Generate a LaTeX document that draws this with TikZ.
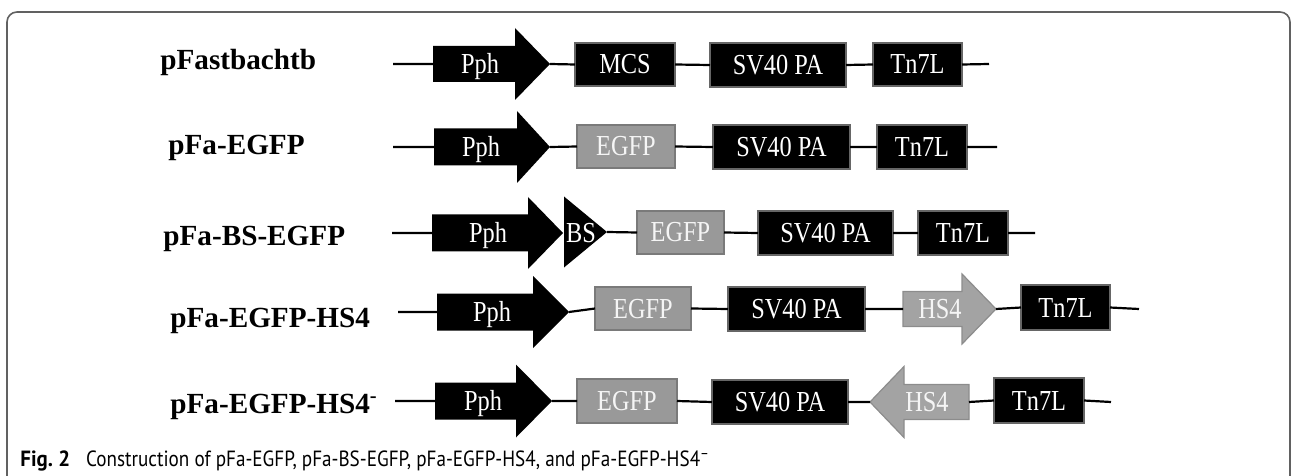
\documentclass[tikz,border=0pt]{standalone}
\usepackage{fontspec}
\setmainfont{Liberation Serif}
\newfontfamily\capfont{PT Sans}
\usepackage{graphicx}
\newcommand\cz[1]{\scalebox{0.84}[1]{#1}}
\newcommand\boxfont{\fontsize{14.5}{16}\selectfont}
% box: name, x1, x2, y1, y2, style, text
\newcommand\gbox[7]{\node[#6, minimum width={(#3-#2)*0.5pt}, minimum height={(#5-#4)*0.5pt}] (#1) at ({(#2+#3)/2},{(#4+#5)/2}) {\cz{#7}};}
% arrow: name, tail x, head base x, tip x, yc, body half, head half, style
\newcommand\garrow[8]{%
  \path[#8] (#2,#5-#6) -- (#3,#5-#6) -- (#3,#5-#7) -- (#4,#5) -- (#3,#5+#7) -- (#3,#5+#6) -- (#2,#5+#6) -- cycle;
  \coordinate (#1-t) at (#2,#5);
  \coordinate (#1-h) at (#4,#5);}
\tikzset{
  conn/.style={line width=1.1pt, black},
  blk/.style={draw=black!60, line width=0.6pt, fill=black, text=white, inner sep=0pt, outer sep=0pt, font=\boxfont, text height=9.5pt, text depth=0pt},
  gry/.style={draw=black!52, line width=0.6pt, fill=black!40, text=black!4, inner sep=0pt, outer sep=0pt, font=\boxfont, text height=9.5pt, text depth=0pt},
  blkA/.style={fill=black},
  gryA/.style={fill=black!36, draw=black!45, line width=0.6pt},
  wtxt/.style={text=white, inner sep=0pt, font=\boxfont, text height=9.5pt, text depth=0pt},
  gtxt/.style={text=black!4, inner sep=0pt, font=\boxfont, text height=9.5pt, text depth=0pt},
  lbl/.style={anchor=base west, inner sep=0pt, font=\fontsize{14.6}{16}\selectfont\bfseries},
  framec/.style={draw=black!62, line width=0.8pt, rounded corners=5pt}
}
\begin{document}
\begin{tikzpicture}[x=0.5pt, y=-0.5pt]
\useasboundingbox (0,0) rectangle (1292,476);
\draw[framec] (7,490) -- (7,12) -- (1290,12) -- (1290,490);

% Row 1
\node[lbl] (l1) at (160,70) {pFastbachtb};
\coordinate (a0) at (393,64);
\garrow{a1}{433}{515}{550}{64}{18}{36}{blkA}
\node[wtxt] (a1n) at (480,64) {\cz{Pph}};
\gbox{a2}{575}{675}{43}{86}{blk}{MCS}
\gbox{a3}{710}{846}{43}{87}{blk}{SV40 PA}
\gbox{a4}{873}{962}{43}{86}{blk}{Tn7L}
\coordinate (a5) at (989,64);
\draw[conn] (a0) -- (a1-t) (a1-h) -- (a2.west) (a2.east) -- (a3.west) (a3.east) -- (a4.west) (a4.east) -- (a5);

% Row 2
\node[lbl] (l2) at (168,155) {pFa-EGFP};
\coordinate (b0) at (393,147);
\garrow{b1}{434}{517}{550}{147}{18.5}{36}{blkA}
\node[wtxt] (b1n) at (481,147) {\cz{Pph}};
\gbox{b2}{577}{675}{125}{168}{gry}{EGFP}
\gbox{b3}{713}{850}{125}{169}{blk}{SV40 PA}
\gbox{b4}{877}{967}{125}{169}{blk}{Tn7L}
\coordinate (b5) at (997,147);
\draw[conn] (b0) -- (b1-t) (b1-h) -- (b2.west) (b2.east) -- (b3.west) (b3.east) -- (b4.west) (b4.east) -- (b5);

% Row 3
\node[lbl] (l3) at (163,245) {pFa-BS-EGFP};
\coordinate (c0) at (392,233);
\garrow{c1}{432}{528}{563}{233}{18.5}{36}{blkA}
\node[wtxt] (c1n) at (488,233) {\cz{Pph}};
\garrow{c2}{564}{564}{607}{232}{0}{35.5}{blkA}
\node[wtxt] (c2n) at (581,233) {\cz{BS}};
\gbox{c3}{637}{724}{211}{254}{gry}{EGFP}
\gbox{c4}{758}{893}{211}{255}{blk}{SV40 PA}
\gbox{c5}{918}{1008}{211}{255}{blk}{Tn7L}
\coordinate (c6) at (1035,233);
\draw[conn] (c0) -- (c1-t) (c2-h) -- (c3.west) (c3.east) -- (c4.west) (c4.east) -- (c5.west) (c5.east) -- (c6);

% Row 4
\node[lbl] (l4) at (170,328) {pFa-EGFP-HS4};
\coordinate (d0) at (398,312);
\garrow{d1}{437}{533}{569}{312}{18.5}{36}{blkA}
\node[wtxt] (d1n) at (492,312) {\cz{Pph}};
\gbox{d2}{595}{691}{287}{330}{gry}{EGFP}
\gbox{d3}{728}{865}{287}{331}{blk}{SV40 PA}
\garrow{d4}{903}{962}{996}{309}{17.5}{35}{gryA}
\node[gtxt] (d4n) at (940,309) {\cz{HS4}};
\gbox{d5}{1021}{1110}{285}{330}{blk}{Tn7L}
\coordinate (d6) at (1139,309);
\draw[conn] (d0) -- (d1-t) (d1-h) -- (d2.west) (d2.east) -- (d3.west) (d3.east) -- (d4-t) (d4-h) -- (d5.west) (d5.east) -- (d6);

% Row 5
\node[lbl] (l5) at (170,413) {pFa-EGFP-HS4\textsuperscript{-}};
\coordinate (e0) at (395,401);
\garrow{e1}{435}{516}{552}{401}{18.5}{36.5}{blkA}
\node[wtxt] (e1n) at (483,401) {\cz{Pph}};
\gbox{e2}{577}{677}{379}{423}{gry}{EGFP}
\gbox{e3}{712}{848}{380}{424}{blk}{SV40 PA}
\garrow{e4}{969}{904}{870}{402}{17.5}{35.5}{gryA}
\node[gtxt] (e4n) at (927,402) {\cz{HS4}};
\gbox{e5}{994}{1084}{378}{423}{blk}{Tn7L}
\coordinate (e6) at (1111,402);
\draw[conn] (e0) -- (e1-t) (e1-h) -- (e2.west) (e2.east) -- (e3.west) (e3.east) -- (e4-h) (e4-t) -- (e5.west) (e5.east) -- (e6);

% Caption
\node[anchor=base west, inner sep=0pt, font=\capfont\fontsize{11}{13}\selectfont] (cap) at (20,466)
  {\scalebox{0.95}[1]{\textbf{Fig.~2}}\hspace{8pt}\scalebox{0.87}[1]{Construction of pFa-EGFP, pFa-BS-EGFP, pFa-EGFP-HS4, and pFa-EGFP-HS4\textsuperscript{–}}};
\end{tikzpicture}
\end{document}
